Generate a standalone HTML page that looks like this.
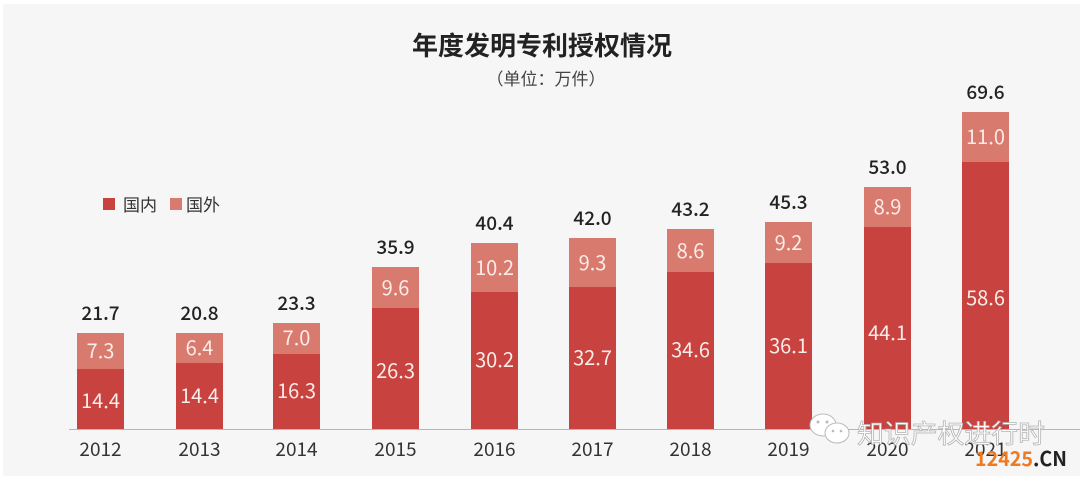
<!DOCTYPE html>
<html><head><meta charset="utf-8">
<style>
html,body{margin:0;padding:0;background:#fff;}
svg{display:block;}
text{font-family:"Noto Sans CJK SC","Liberation Sans",sans-serif;}
</style></head>
<body>
<svg width="1080" height="481" viewBox="0 0 1080 481" xmlns="http://www.w3.org/2000/svg">
<rect x="0" y="0" width="1080" height="481" fill="#ffffff"/>
<rect x="3" y="4" width="1077" height="472" fill="#f6f6f6"/>

<!-- title -->
<text x="542" y="55" font-size="26" font-weight="bold" fill="#222" text-anchor="middle">年度发明专利授权情况</text>
<text x="546" y="85" font-size="17" fill="#444" text-anchor="middle">（单位：万件）</text>

<!-- legend -->
<rect x="103" y="198" width="12" height="12" fill="#c8423f"/>
<text x="123" y="211" font-size="17" fill="#333">国内</text>
<rect x="170" y="198" width="12" height="12" fill="#d97a6e"/>
<text x="186" y="211" font-size="17" fill="#333">国外</text>

<!-- axis -->
<line x1="69" y1="429.5" x2="1080" y2="429.5" stroke="#e2a49c" stroke-width="1"/>

<g id="bars">
<rect x="77" y="333" width="47" height="36" fill="#d97a6e"/>
<rect x="77" y="369" width="47" height="60" fill="#c8423f"/>
<rect x="176" y="333" width="47" height="30" fill="#d97a6e"/>
<rect x="176" y="363" width="47" height="66" fill="#c8423f"/>
<rect x="273" y="323" width="47" height="31" fill="#d97a6e"/>
<rect x="273" y="354" width="47" height="75" fill="#c8423f"/>
<rect x="372" y="267" width="47" height="41" fill="#d97a6e"/>
<rect x="372" y="308" width="47" height="121" fill="#c8423f"/>
<rect x="471" y="243" width="47" height="49" fill="#d97a6e"/>
<rect x="471" y="292" width="47" height="137" fill="#c8423f"/>
<rect x="569" y="238" width="47" height="49" fill="#d97a6e"/>
<rect x="569" y="287" width="47" height="142" fill="#c8423f"/>
<rect x="667" y="229" width="47" height="43" fill="#d97a6e"/>
<rect x="667" y="272" width="47" height="157" fill="#c8423f"/>
<rect x="765" y="222" width="47" height="41" fill="#d97a6e"/>
<rect x="765" y="263" width="47" height="166" fill="#c8423f"/>
<rect x="864" y="187" width="47" height="40" fill="#d97a6e"/>
<rect x="864" y="227" width="47" height="202" fill="#c8423f"/>
<rect x="962" y="112" width="47" height="50" fill="#d97a6e"/>
<rect x="962" y="162" width="47" height="267" fill="#c8423f"/>
</g>

<!-- totals -->
<g font-size="19" font-weight="500" fill="#222" text-anchor="middle">
<text x="100.5" y="320">21.7</text>
<text x="199.5" y="320">20.8</text>
<text x="296.5" y="310">23.3</text>
<text x="395.5" y="254">35.9</text>
<text x="494.5" y="230">40.4</text>
<text x="592.5" y="225">42.0</text>
<text x="690.5" y="216">43.2</text>
<text x="788.5" y="209">45.3</text>
<text x="887.5" y="174">53.0</text>
<text x="985.5" y="99">69.6</text>
</g>

<!-- inner labels -->
<g font-size="20" fill="#fbece8" text-anchor="middle">
<text x="100.5" y="358">7.3</text>
<text x="100.5" y="408">14.4</text>
<text x="199.5" y="355">6.4</text>
<text x="199.5" y="403">14.4</text>
<text x="296.5" y="345">7.0</text>
<text x="296.5" y="398">16.3</text>
<text x="395.5" y="295">9.6</text>
<text x="395.5" y="378">26.3</text>
<text x="494.5" y="275">10.2</text>
<text x="494.5" y="367">30.2</text>
<text x="592.5" y="270">9.3</text>
<text x="592.5" y="365">32.7</text>
<text x="690.5" y="258">8.6</text>
<text x="690.5" y="357">34.6</text>
<text x="788.5" y="250">9.2</text>
<text x="788.5" y="353">36.1</text>
<text x="887.5" y="214">8.9</text>
<text x="887.5" y="340">44.1</text>
<text x="985.5" y="144">11.0</text>
<text x="985.5" y="305">58.6</text>
</g>

<!-- years -->
<g font-size="19" fill="#333" text-anchor="middle">
<text x="100.5" y="456">2012</text>
<text x="199.5" y="456">2013</text>
<text x="296.5" y="456">2014</text>
<text x="395.5" y="456">2015</text>
<text x="494.5" y="456">2016</text>
<text x="592.5" y="456">2017</text>
<text x="690.5" y="456">2018</text>
<text x="788.5" y="456">2019</text>
<text x="887.5" y="456">2020</text>
<text x="985.5" y="456">2021</text>
</g>

<!-- watermark -->
<g>
<ellipse cx="823" cy="425" rx="13" ry="11" fill="#ffffff" stroke="#bbbbbb" stroke-width="1"/>
<ellipse cx="837" cy="433" rx="12" ry="10" fill="#ffffff" stroke="#bbbbbb" stroke-width="1"/>
<circle cx="818" cy="422" r="1.5" fill="#bbb"/>
<circle cx="827" cy="422" r="1.5" fill="#bbb"/>
<circle cx="833" cy="431" r="1.3" fill="#bbb"/>
<circle cx="841" cy="431" r="1.3" fill="#bbb"/>
<text x="857" y="443" font-size="26" fill="#ffffff" stroke="#b5b5b5" stroke-width="0.8" textLength="188" lengthAdjust="spacingAndGlyphs">知识产权进行时</text>
<text x="975" y="466" font-size="20" font-weight="bold" fill="#f07a20" font-family="Liberation Sans, sans-serif" textLength="92" lengthAdjust="spacingAndGlyphs">12425<tspan fill="#222">.CN</tspan></text>
</g>
</svg>
</body></html>
